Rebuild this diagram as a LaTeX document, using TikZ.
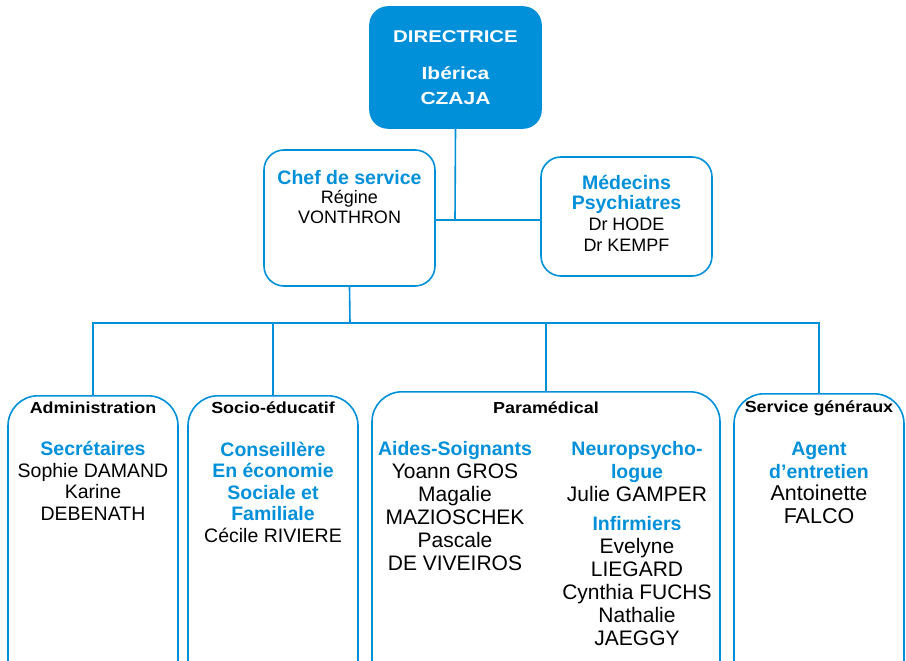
\documentclass[tikz,border=0pt]{standalone}
\usepackage{fontspec}
\setmainfont{Liberation Sans}
\newfontfamily\widea{Liberation Sans}[FakeStretch=1.12]
\newfontfamily\wideb{Liberation Sans}[FakeStretch=1.2]
\usepackage{xcolor}
\definecolor{orgblue}{RGB}{0,144,218}
\newcommand{\titre}[1]{{\color{orgblue}\bfseries #1}}

\tikzset{
    box/.style={draw=orgblue, line width=1.6pt, rounded corners=#1, inner sep=0pt},
    box/.default=20pt,
    head/.style={font=\widea\bfseries\fontsize{16}{18}\selectfont, inner sep=0pt},
    body/.style={align=center, inner sep=0pt, font=\fontsize{19.5}{21.5}\selectfont},
    link/.style={draw=orgblue, line width=1.6pt}
}

\begin{document}
\begin{tikzpicture}[x=1pt, y=-1pt]
    \useasboundingbox (0,0) rectangle (906,661);
    \clip (0,0) rectangle (906,661);

    % Top boxes
    \node[box=18pt, fill=orgblue, minimum width=171, minimum height=121] (dir) at (455.5,67.5) {};
    \node[box, minimum width=171, minimum height=136] (chef) at (349.5,218) {};
    \node[box, minimum width=171, minimum height=119] (med) at (626.5,216.5) {};

    % Bottom boxes
    \node[box=30pt, minimum width=170, minimum height=295, anchor=north] (admin) at (93,395) {};
    \node[box=30pt, minimum width=170, minimum height=295, anchor=north] (socio) at (273,395) {};
    \node[box=30pt, minimum width=348, minimum height=299, anchor=north] (para) at (546,391) {};
    \node[box=30pt, minimum width=170, minimum height=297, anchor=north] (serv) at (819,393) {};

    % Connectors
    \coordinate (hub) at (455,220);
    \coordinate (bus) at (350,323);
    \draw[link] (dir.south) -- (hub);
    \draw[link] (chef.east |- hub) -- (med.west |- hub);
    \draw[link] (chef.south) -- (bus);
    \draw[link] (admin.north) |- (serv.north |- bus) -- (serv.north);
    \draw[link] (socio.north) -- (socio.north |- bus);
    \draw[link] (para.north) -- (para.north |- bus);

    % Texts of the top boxes
    \node[inner sep=0pt, text=white, font=\wideb\bfseries\fontsize{17}{19}\selectfont] (dir-t) at (455.5,37) {DIRECTRICE};
    \node[align=center, inner sep=0pt, text=white, font=\wideb\bfseries\fontsize{17.5}{25}\selectfont] (dir-n) at (455.5,85.5) {Ibérica\\CZAJA};
    \node[body, font=\fontsize{18}{19.5}\selectfont] (chef-t) at (349.5,197)
        {\titre{\fontsize{19.5}{19.5}\selectfont Chef de service}\\Régine\\VONTHRON};
    \node[body, font=\fontsize{18}{20.7}\selectfont] (med-t) at (626.5,213)
        {\titre{\fontsize{19.5}{20.7}\selectfont Médecins}\\\titre{\fontsize{19.5}{20.7}\selectfont Psychiatres}\\Dr HODE\\Dr KEMPF};

    % Headers of the bottom boxes
    \node[head] (admin-h) at (93,408) {Administration};
    \node[head] (socio-h) at (273,408) {Socio-éducatif};
    \node[head] (para-h) at (546,408) {Paramédical};
    \node[head] (serv-h) at (819,408) {Service généraux};

    % Texts of the bottom boxes
    \node[body] (admin-t) at (93,481)
        {\titre{Secrétaires}\\Sophie DAMAND\\Karine\\DEBENATH};
    \node[body] (socio-t) at (273,492)
        {\titre{Conseillère}\\\titre{En économie}\\\titre{Sociale et}\\\titre{Familiale}\\Cécile RIVIERE};
    \node[body, font=\fontsize{21}{23}\selectfont] (para-l) at (455,506)
        {\titre{\fontsize{19.5}{23}\selectfont Aides-Soignants}\\Yoann GROS\\Magalie\\MAZIOSCHEK\\Pascale\\DE VIVEIROS};
    \node[body, font=\fontsize{21}{23}\selectfont] (para-r) at (637,543.5)
        {\titre{\fontsize{19.5}{22}\selectfont Neuropsycho-}\\\titre{\fontsize{19.5}{22}\selectfont logue}\\Julie GAMPER\\[6pt]
         \titre{\fontsize{19.5}{23}\selectfont Infirmiers}\\Evelyne\\LIEGARD\\Cynthia FUCHS\\Nathalie\\JAEGGY};
    \node[body, font=\fontsize{21.5}{22.5}\selectfont] (serv-t) at (819,483)
        {\titre{\fontsize{19.5}{20.5}\selectfont Agent}\\\titre{\fontsize{19.5}{22.5}\selectfont d’entretien}\\Antoinette\\FALCO};
\end{tikzpicture}
\end{document}
